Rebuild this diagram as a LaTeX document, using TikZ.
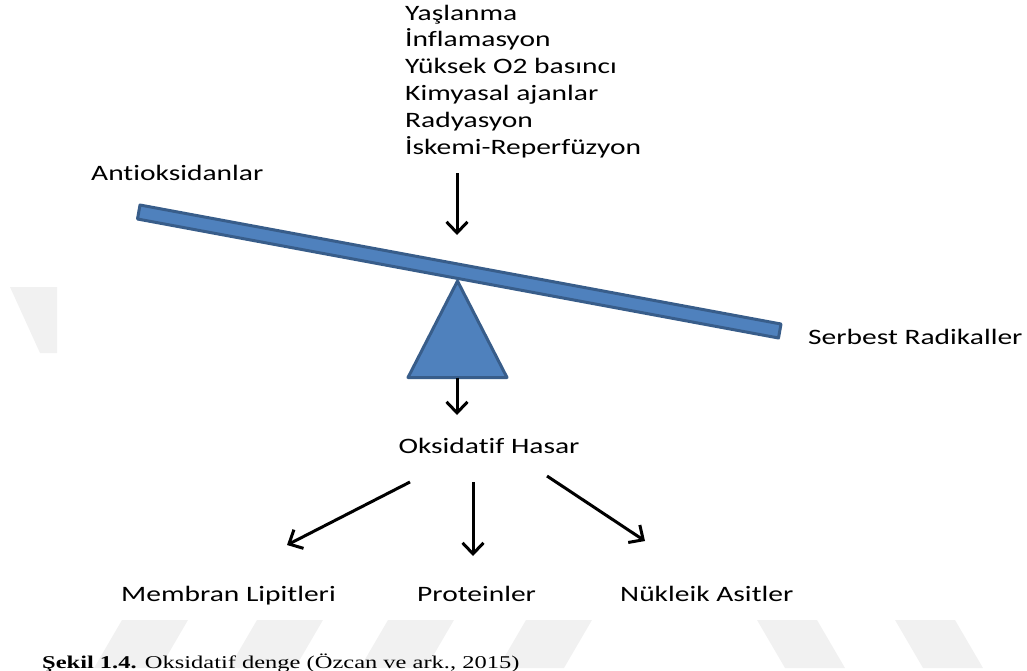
\documentclass[tikz,border=0pt]{standalone}
\usepackage{fontspec}
\setmainfont{Carlito}[FakeStretch=1.34, Ligatures=NoCommon]
\newfontfamily\capfont{Liberation Serif}[FakeStretch=1.36]
\usetikzlibrary{arrows.meta}
\definecolor{beamblue}{RGB}{79,129,189}
\definecolor{beamedge}{RGB}{56,93,138}
\definecolor{wmgray}{RGB}{241,241,241}
\begin{document}
\begin{tikzpicture}[x=1pt,y=-1pt,
  lbl/.style={inner sep=0pt, font=\fontsize{22}{26.8}\selectfont, text=black},
  arr/.style={line width=3pt, -{Straight Barb[length=11pt,width=21pt,line width=3pt]}},
  blueshape/.style={fill=beamblue, draw=beamedge, line width=3pt, line join=round},
  wm/.style={fill=wmgray, draw=none}]
\useasboundingbox (0,0) rectangle (1027,670);
\clip (0,0) rectangle (1027,670);
% faint watermark outside the diagram
\fill[wm] (10,287) -- (57,287) -- (57,353) -- (40,353) -- cycle;
\foreach \x in {122,257,388,526}{
  \fill[wm] (\x,620) -- (\x+66,620) -- (\x+38,668) -- (\x-28,668) -- cycle;}
\foreach \x in {757,895}{
  \fill[wm] (\x,620) -- (\x+60,620) -- (\x+88,668) -- (\x+28,668) -- cycle;}
% texts
\node[lbl, anchor=base west] (c1) at (405,20) {Yaşlanma};
\node[lbl, anchor=base west] (c2) at (405,46.8) {İnflamasyon};
\node[lbl, anchor=base west] (c3) at (405,73.6) {Yüksek O2 basıncı};
\node[lbl, anchor=base west] (c4) at (405,100.4) {Kimyasal ajanlar};
\node[lbl, anchor=base west] (c5) at (405,127.2) {Radyasyon};
\node[lbl, anchor=base west] (c6) at (405,154) {İskemi-Reperfüzyon};
\node[lbl, anchor=base west] (anti) at (91,180.5) {Antioksidanlar};
\node[lbl, anchor=base west] (serb) at (808,344) {Serbest Radikaller};
\node[lbl, anchor=base] (ox) at (489,453) {Oksidatif Hasar};
\node[lbl, anchor=base west] (mem) at (121,601) {Membran Lipitleri};
\node[lbl, anchor=base west] (pro) at (417,601) {Proteinler};
\node[lbl, anchor=base west] (nuk) at (620,601) {Nükleik Asitler};
\node[inner sep=0pt, anchor=base west, font=\capfont\fontsize{18}{20}\selectfont] (cap) at (42,668)
  {\textbf{Şekil 1.4.} Oksidatif denge (Özcan ve ark., 2015)};
% seesaw
\draw[blueshape] (140,205) -- (781,324) -- (778.5,338) -- (137.5,219) -- cycle;
\draw[blueshape] (457.5,281) -- (507,377.5) -- (408,377.5) -- cycle;
\coordinate (ctop) at (457,173);
\coordinate (cbot) at (457,235);
\coordinate (base) at (457,377.5);
\coordinate (btip) at (457,415);
\coordinate (o1) at (410,482);
\coordinate (o2) at (473,482);
\coordinate (o3) at (547,476);
\coordinate (t1) at (287,545);
\coordinate (t2) at (473,556);
\coordinate (t3) at (645,541);
\draw[arr] (ctop) -- (cbot);
\draw[arr] (base) -- (btip);
\draw[arr] (o1) -- (t1);
\draw[arr] (o2) -- (t2);
\draw[arr] (o3) -- (t3);
\end{tikzpicture}
\end{document}
